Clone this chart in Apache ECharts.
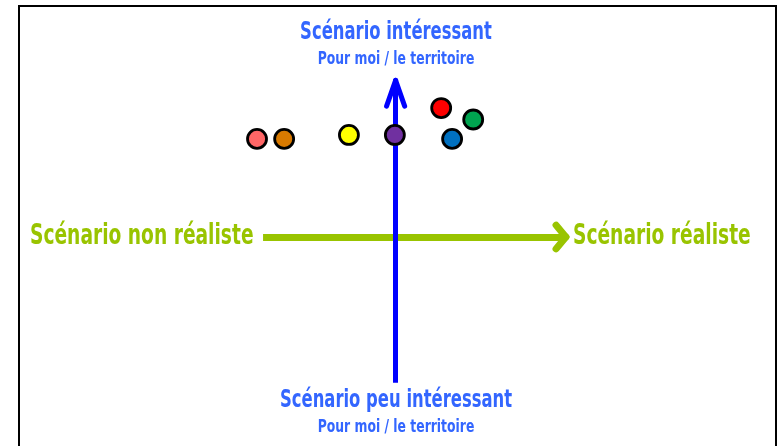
<!DOCTYPE html>
<html>
<head>
<meta charset="utf-8">
<script src="https://cdn.jsdelivr.net/npm/echarts@6/dist/echarts.min.js"></script>
<style>
  html, body { margin: 0; padding: 0; background: #fff; }
  #chart { width: 778px; height: 446px; }
</style>
</head>
<body>
<div id="chart"></div>
<script>
// position of each scenario: x = réalisme, y = intérêt (axes cross at 0,0)
var pointNames = ['s1', 's2', 's3', 's4', 's5', 's6', 's7'];
var pointX = [-3.68, -2.96, -1.24, -0.02, 1.21, 2.06, 1.50];
var pointY = [4.46, 4.46, 4.64, 4.64, 5.86, 5.34, 4.46];
var pointColors = ['#FF6666', '#D97A00', '#FFFF00', '#7030A0', '#FF0000', '#00A550', '#0070C0'];

// horizontal arrow: non réaliste -> réaliste
var hStart = [-3.52, 0];
var hTip = [4.52, 0];
var hWings = [[4.26, 0.54], [4.26, -0.54]];
// vertical arrow: peu intéressant -> intéressant
var vStart = [0, -6.62];
var vTip = [0, 7.12];
var vWings = [[-0.24, 5.95], [0.24, 5.95]];

var labelTop = 'Scénario intéressant';
var labelBottom = 'Scénario peu intéressant';
var labelSub = 'Pour moi / le territoire';
var labelLeft = 'Scénario non réaliste';
var labelRight = 'Scénario réaliste';

var FONT = "'Liberation Sans Narrow', 'DejaVu Sans Condensed', 'Liberation Sans', sans-serif";
var BLUE_TXT = '#3366FF';
var GREEN = '#99C400';

var chart = echarts.init(document.getElementById('chart'));

var points = pointX.map(function (x, i) {
  return { name: pointNames[i], value: [x, pointY[i]], itemStyle: { color: pointColors[i] } };
});

function seg(a, b, cap) {
  return [{ coord: a, lineStyle: { cap: cap || 'butt' } }, { coord: b }];
}

function txt(text, size, color, x, y, sx, align) {
  return {
    type: 'text',
    x: x, y: y,
    scaleX: sx,
    style: {
      text: text,
      font: 'bold ' + size + 'px ' + FONT,
      fill: color,
      textAlign: align || 'center',
      textVerticalAlign: 'middle'
    },
    z: 10
  };
}

var option = {
  backgroundColor: '#fff',
  animation: false,
  graphic: [
    // frame (open at the bottom edge of the picture)
    {
      type: 'rect',
      shape: { x: 19, y: 6, width: 757, height: 460 },
      style: { fill: 'none', stroke: '#000', lineWidth: 2 },
      silent: true,
      z: 0
    },
    txt(labelTop, 24, BLUE_TXT, 396, 33, 0.76),
    txt(labelSub, 17, BLUE_TXT, 396, 60, 0.81),
    txt(labelBottom, 24, BLUE_TXT, 396, 401, 0.76),
    txt(labelSub, 17, BLUE_TXT, 396, 428, 0.81),
    txt(labelLeft, 28, GREEN, 30, 237, 0.74, 'left'),
    txt(labelRight, 28, GREEN, 573, 237, 0.74, 'left')
  ],
  grid: { left: 19, right: 2, top: 6, bottom: -4, show: false },
  xAxis: { type: 'value', min: -10, max: 10.1, show: false },
  yAxis: { type: 'value', min: -9.5, max: 10.5, show: false },
  series: [
    {
      type: 'scatter',
      data: [],
      silent: true,
      markLine: {
        silent: true,
        symbol: ['none', 'none'],
        label: { show: false },
        lineStyle: { color: GREEN, width: 7, type: 'solid' },
        data: [seg(hStart, hTip), seg(hWings[0], hTip, 'round'), seg(hWings[1], hTip, 'round')]
      },
      z: 1
    },
    {
      type: 'scatter',
      data: [],
      silent: true,
      markLine: {
        silent: true,
        symbol: ['none', 'none'],
        label: { show: false },
        lineStyle: { color: '#0000FF', width: 5, type: 'solid' },
        data: [seg(vStart, vTip), seg(vWings[0], vTip, 'round'), seg(vWings[1], vTip, 'round')]
      },
      z: 2
    },
    {
      type: 'scatter',
      data: points,
      symbolSize: 19,
      itemStyle: { borderColor: '#000', borderWidth: 2.8, opacity: 1 },
      z: 5
    }
  ]
};

chart.setOption(option);
</script>
</body>
</html>
